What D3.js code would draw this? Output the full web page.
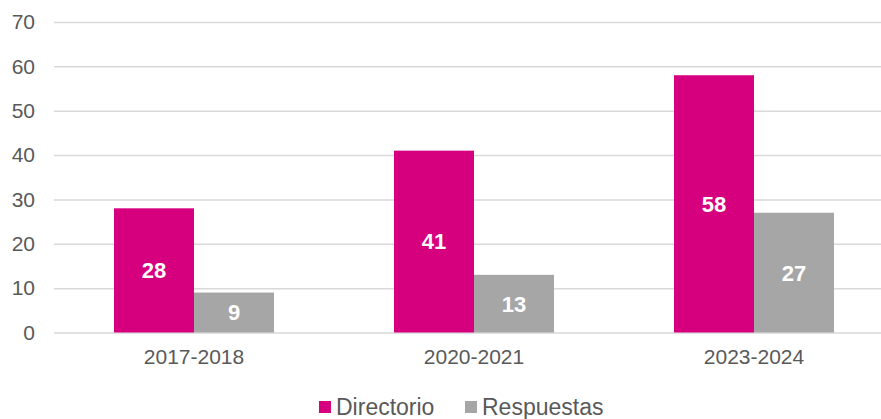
<!DOCTYPE html>
<html>
<head>
<meta charset="utf-8">
<script src="https://cdn.jsdelivr.net/npm/d3@7"></script>
<style>
  body { margin: 0; background: #fff; }
  svg { display: block; font-family: "Liberation Sans", Arial, sans-serif; }
</style>
</head>
<body>
<div class="chart"></div>
<script>
const periods = ["2017-2018", "2020-2021", "2023-2024"];
const seriesNames = ["Directorio", "Respuestas"];
const directorio = [28, 41, 58];
const respuestas = [9, 13, 27];
const yTicks = [0, 10, 20, 30, 40, 50, 60, 70];
const colors = ["#d6007f", "#a6a6a6"];

const w = 881;
const h = 419;

const svg = d3.select(".chart")
  .append("svg")
  .attr("width", w)
  .attr("height", h);

const xScale = d3.scaleBand()
  .domain(periods)
  .range([54, 894]);

const xInner = d3.scaleBand()
  .domain(seriesNames)
  .range([0, xScale.bandwidth()])
  .paddingOuter(0.75);

const yScale = d3.scaleLinear()
  .domain([0, 70])
  .range([332.5, 22]);

// gridlines
const yAxis = d3.axisLeft(yScale)
  .tickValues(yTicks)
  .tickSize(-(894 - 54))
  .tickPadding(19);

const gy = svg.append("g")
  .attr("transform", "translate(54,0)")
  .call(yAxis);
gy.select(".domain").remove();
gy.selectAll(".tick line")
  .attr("stroke", "#d9d9d9")
  .attr("stroke-width", 1.5);
gy.selectAll(".tick text")
  .attr("fill", "#595959")
  .attr("font-size", 21);

const rows = periods.map((p, i) => ({ period: p, values: [directorio[i], respuestas[i]] }));

const groups = svg.selectAll(".group")
  .data(rows)
  .enter()
  .append("g")
  .attr("transform", d => "translate(" + xScale(d.period) + ",0)");

const bars = groups.selectAll("g")
  .data(d => d.values.map((v, j) => ({ name: seriesNames[j], value: v, j: j })))
  .enter()
  .append("g");

bars.append("rect")
  .attr("x", d => xInner(d.name))
  .attr("y", d => yScale(d.value))
  .attr("width", xInner.bandwidth())
  .attr("height", d => yScale(0) - yScale(d.value))
  .attr("fill", d => colors[d.j]);

bars.append("text")
  .attr("x", d => xInner(d.name) + xInner.bandwidth() / 2)
  .attr("y", d => (yScale(d.value) + yScale(0)) / 2)
  .attr("dy", "0.36em")
  .attr("text-anchor", "middle")
  .attr("fill", "#fff")
  .attr("font-weight", "bold")
  .attr("font-size", 22)
  .text(d => d.value);

// x axis labels
const xAxis = d3.axisBottom(xScale).tickSize(0).tickPadding(17);
const gx = svg.append("g")
  .attr("transform", "translate(0,332)")
  .call(xAxis);
gx.select(".domain").remove();
gx.selectAll(".tick text")
  .attr("fill", "#595959")
  .attr("font-size", 21);

// legend
const legendX = [319, 465];
const legend = svg.selectAll(".legend")
  .data(seriesNames)
  .enter()
  .append("g")
  .attr("transform", (d, i) => "translate(" + legendX[i] + ",401)");

legend.append("rect")
  .attr("width", 12)
  .attr("height", 12)
  .attr("fill", (d, i) => colors[i]);

legend.append("text")
  .attr("x", 17)
  .attr("y", 6)
  .attr("dy", "0.36em")
  .attr("fill", "#595959")
  .attr("font-size", 23)
  .text(d => d);
</script>
</body>
</html>
